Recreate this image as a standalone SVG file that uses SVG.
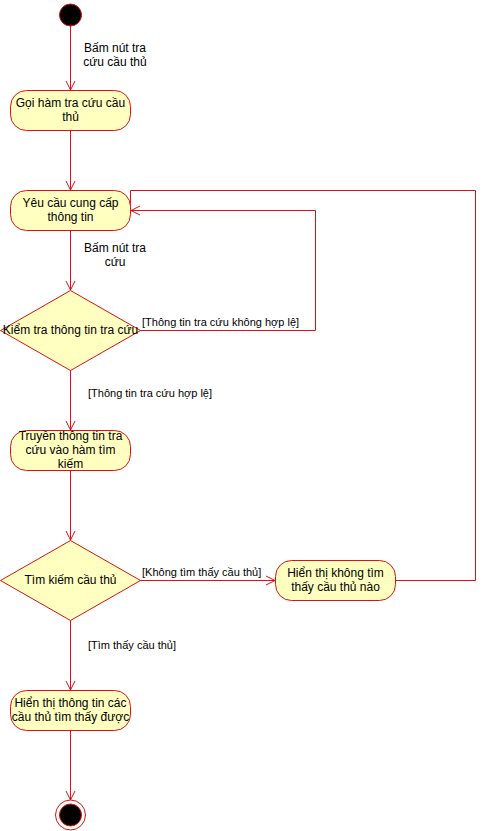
<svg xmlns="http://www.w3.org/2000/svg" width="486" height="831" viewBox="0 0 486 831">
<style>
.act{fill:#ffffc0;stroke:#dd1111;stroke-width:1}
.e{fill:none;stroke:#dd1111;stroke-width:1}
.t{font-family:"Liberation Sans",Arial,sans-serif;font-size:12px;fill:#000;text-anchor:middle}
.g{font-family:"Liberation Sans",Arial,sans-serif;font-size:11px;fill:#000}
</style>
<defs>
<marker id="arr" markerWidth="12" markerHeight="12" refX="10" refY="6" orient="auto" markerUnits="userSpaceOnUse">
<path d="M1,1.5 L10,6 L1,10.5" fill="none" stroke="#dd1111" stroke-width="1"/>
</marker>
</defs>
<rect width="486" height="831" fill="#fff"/>
<g id="connectors">
<path class="e" d="M70.5,26 V90" marker-end="url(#arr)"/>
<path class="e" d="M70.5,130 V190" marker-end="url(#arr)"/>
<path class="e" d="M70.5,230 V290" marker-end="url(#arr)"/>
<path class="e" d="M140,330.5 H315.5 V210.5 H131" marker-end="url(#arr)"/>
<path class="e" d="M70.5,370 V430" marker-end="url(#arr)"/>
<path class="e" d="M70.5,470 V540" marker-end="url(#arr)"/>
<path class="e" d="M140,580.5 H275" marker-end="url(#arr)"/>
<path class="e" d="M70.5,620 V690" marker-end="url(#arr)"/>
<path class="e" d="M70.5,730 V800" marker-end="url(#arr)"/>
<path class="e" d="M395,580.5 H475.5 V190.5 H130.5 V208"/>
<text class="t" x="115" y="52">Bấm nút tra</text>
<text class="t" x="115" y="66">cứu cầu thủ</text>
<text class="t" x="115" y="252">Bấm nút tra</text>
<text class="t" x="115" y="266">cứu</text>
<text class="g" x="142" y="325.5">[Thông tin tra cứu không hợp lệ]</text>
<text class="g" x="88" y="397">[Thông tin tra cứu hợp lệ]</text>
<text class="g" x="142" y="575.5">[Không tìm thấy cầu thủ]</text>
<text class="g" x="88" y="649">[Tìm thấy cầu thủ]</text>
</g>
<g id="start">
<circle cx="70.5" cy="15" r="11" fill="#000" stroke="#dd1111"/>
</g>
<g id="n1">
<rect class="act" x="10.5" y="90.5" width="120" height="40" rx="16"/>
<text class="t" x="70.5" y="107">Gọi hàm tra cứu cầu</text>
<text class="t" x="70.5" y="121">thủ</text>
</g>
<g id="n2">
<rect class="act" x="10.5" y="190.5" width="120" height="40" rx="16"/>
<text class="t" x="70.5" y="207">Yêu cầu cung cấp</text>
<text class="t" x="70.5" y="221">thông tin</text>
</g>
<g id="d1">
<polygon class="act" points="70.5,290.5 140.5,330.5 70.5,370.5 0.5,330.5"/>
<text class="t" x="70.5" y="334">Kiểm tra thông tin tra cứu</text>
</g>
<g id="n3">
<rect class="act" x="10.5" y="430.5" width="120" height="40" rx="16"/>
<text class="t" x="70.5" y="440">Truyền thông tin tra</text>
<text class="t" x="70.5" y="454">cứu vào hàm tìm</text>
<text class="t" x="70.5" y="468">kiếm</text>
</g>
<g id="d2">
<polygon class="act" points="70.5,540.5 140.5,580.5 70.5,620.5 0.5,580.5"/>
<text class="t" x="70.5" y="584">Tìm kiếm cầu thủ</text>
</g>
<g id="n4">
<rect class="act" x="275.5" y="560.5" width="120" height="40" rx="16"/>
<text class="t" x="335.5" y="577">Hiển thị không tìm</text>
<text class="t" x="335.5" y="591">thấy cầu thủ nào</text>
</g>
<g id="n5">
<rect class="act" x="10.5" y="690.5" width="120" height="40" rx="16"/>
<text class="t" x="70.5" y="707">Hiển thị thông tin các</text>
<text class="t" x="70.5" y="721">cầu thủ tìm thấy được</text>
</g>
<g id="end">
<circle cx="70.5" cy="815" r="15" fill="#fff" stroke="#dd1111"/>
<circle cx="70.5" cy="815" r="11" fill="#000" stroke="#dd1111"/>
</g>
</svg>
